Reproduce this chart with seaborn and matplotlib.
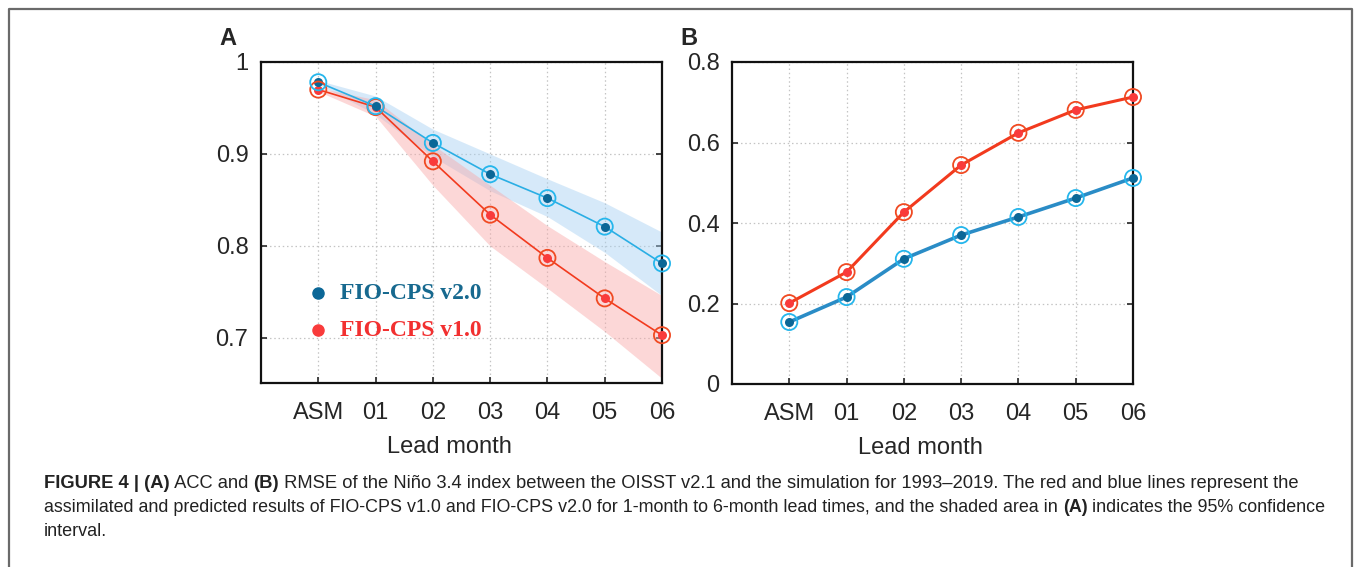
import numpy as np
import pandas as pd
import seaborn as sns
import matplotlib.pyplot as plt
from matplotlib.lines import Line2D

# values
leads = ['ASM', '01', '02', '03', '04', '05', '06']

acc_v2 = [0.978, 0.952, 0.912, 0.878, 0.852, 0.821, 0.781]
acc_v1 = [0.970, 0.951, 0.892, 0.834, 0.787, 0.743, 0.703]
acc_v2_hi = [0.980, 0.963, 0.927, 0.900, 0.873, 0.847, 0.815]
acc_v2_lo = [0.976, 0.943, 0.897, 0.860, 0.832, 0.793, 0.746]
acc_v1_hi = [0.972, 0.959, 0.910, 0.866, 0.822, 0.783, 0.746]
acc_v1_lo = [0.968, 0.941, 0.866, 0.800, 0.754, 0.707, 0.656]

rmse_v2 = [0.154, 0.216, 0.311, 0.370, 0.415, 0.462, 0.512]
rmse_v1 = [0.201, 0.278, 0.427, 0.544, 0.624, 0.681, 0.713]

acc_ticks = [0.7, 0.8, 0.9, 1.0]
acc_ticklabels = ['0.7', '0.8', '0.9', '1']
rmse_ticks = [0.0, 0.2, 0.4, 0.6, 0.8]
rmse_ticklabels = ['0', '0.2', '0.4', '0.6', '0.8']

legend_labels = ['FIO-CPS v2.0', 'FIO-CPS v1.0']

caption = [
    [("FIGURE 4 | (A)", 'bold'), (" ACC and ", 'normal'), ("(B)", 'bold'),
     (" RMSE of the Niño 3.4 index between the OISST v2.1 and the simulation for 1993–2019. "
      "The red and blue lines represent the", 'normal')],
    [("assimilated and predicted results of FIO-CPS v1.0 and FIO-CPS v2.0 for 1-month to "
      "6-month lead times, and the shaded area in ", 'normal'), ("(A)", 'bold'),
     (" indicates the 95% confidence", 'normal')],
    [("interval.", 'normal')],
]

df = pd.DataFrame({
    'pos': np.arange(len(leads)),
    'lead': leads,
    'acc_v2': acc_v2, 'acc_v1': acc_v1,
    'acc_v2_hi': acc_v2_hi, 'acc_v2_lo': acc_v2_lo,
    'acc_v1_hi': acc_v1_hi, 'acc_v1_lo': acc_v1_lo,
    'rmse_v2': rmse_v2, 'rmse_v1': rmse_v1,
})

sns.set_style('white')
plt.rcParams['font.family'] = ['Liberation Sans', 'DejaVu Sans']

BLUE_LINE_A = '#2aaee4'
BLUE_LINE_B = '#2a8cc6'
BLUE_DOT = '#0b6797'
BLUE_RING = '#25b6ec'
RED_LINE = '#f23a1e'
RED_DOT = '#f93b3b'
RED_RING = '#f04a22'

fig = plt.figure(figsize=(13.55, 5.67), dpi=100)
W, H = 1355, 567


def add_axes(x0, x1, y0, y1):
    return fig.add_axes([x0 / W, 1 - y1 / H, (x1 - x0) / W, (y1 - y0) / H])


ax_a = add_axes(261, 662, 62, 383)
ax_b = add_axes(732, 1133, 62, 384)


def draw_series(ax, col, line_color, dot_color, ring_color, lw):
    sns.lineplot(data=df, x='pos', y=col, ax=ax, color=line_color, lw=lw,
                 marker='o', markersize=6.5, markerfacecolor=dot_color,
                 markeredgewidth=0, clip_on=False, zorder=4)
    ax.scatter(df['pos'], df[col], s=135, facecolors='none', edgecolors=ring_color,
               linewidths=1.3, clip_on=False, zorder=5)


# panel A
ax_a.fill_between(df['pos'], df['acc_v2_lo'], df['acc_v2_hi'], color='#a6d0f2',
                  alpha=0.45, lw=0, zorder=2)
ax_a.fill_between(df['pos'], df['acc_v1_lo'], df['acc_v1_hi'], color='#f9a8a8',
                  alpha=0.45, lw=0, zorder=2)
draw_series(ax_a, 'acc_v1', RED_LINE, RED_DOT, RED_RING, 1.2)
draw_series(ax_a, 'acc_v2', BLUE_LINE_A, BLUE_DOT, BLUE_RING, 1.2)
ax_a.set_ylim(0.651, 1.0)
ax_a.set_yticks(acc_ticks)
ax_a.set_yticklabels(acc_ticklabels)

# legend of panel A
leg_colors = [BLUE_DOT, RED_DOT]
leg_text_colors = ['#17698f', '#f23030']
for i, lab in enumerate(legend_labels):
    yy = 0.280 - i * 0.115
    ax_a.plot([0.1425], [yy], 'o', color=leg_colors[i], ms=8, transform=ax_a.transAxes,
              zorder=6)
    ax_a.text(0.197, yy, lab, transform=ax_a.transAxes, va='center', ha='left',
              color=leg_text_colors[i], fontsize=17, fontweight='bold',
              family=['Liberation Serif', 'DejaVu Serif'], zorder=6)

# panel B
draw_series(ax_b, 'rmse_v1', RED_LINE, RED_DOT, RED_RING, 2.2)
draw_series(ax_b, 'rmse_v2', BLUE_LINE_B, BLUE_DOT, BLUE_RING, 2.6)
ax_b.set_ylim(0, 0.8)
ax_b.set_yticks(rmse_ticks)
ax_b.set_yticklabels(rmse_ticklabels)

for ax in (ax_a, ax_b):
    ax.set_xlim(-1, 6)
    ax.set_xticks(df['pos'])
    ax.set_xticklabels(leads)
    ax.grid(True, color='#c4c4c4', lw=0.9, ls=(0, (1.2, 2.2)))
    ax.set_axisbelow(True)
    ax.tick_params(axis='both', direction='in', length=4, width=1.2, labelsize=17,
                   right=True, bottom=True, top=False, left=True, pad=9)
    ax.tick_params(axis='x', pad=14)
    ax.set_ylabel('')
    ax.set_xlabel('Lead month', fontsize=17)
    ax.xaxis.set_label_coords(0.47, -0.165, transform=ax.transAxes)
    ax.xaxis.label.set_va('top')
    for sp in ax.spines.values():
        sp.set_visible(True)
        sp.set_color('#111111')
        sp.set_linewidth(1.6)

fig.text(219 / W, 1 - 45 / H, 'A', fontsize=17, fontweight='bold', va='baseline')
fig.text(680 / W, 1 - 45 / H, 'B', fontsize=17, fontweight='bold', va='baseline')

# outer frame, open at the bottom
fig.add_artist(Line2D([9 / W, 9 / W, 1352 / W, 1352 / W], [0, 1 - 8.5 / H, 1 - 8.5 / H, 0],
                      transform=fig.transFigure, color='#6a6a6a', lw=1.6))

# caption, pieces laid out one after another; each full line sized to its width
renderer = fig.canvas.get_renderer()
cap_family = ['Liberation Sans', 'DejaVu Sans']
base_size = 13.0
line_y = [488, 512, 536]
line_end = [1297, 1318, None]


def place_line(pieces, row, size):
    x = 44
    made = []
    for txt, weight in pieces:
        t = fig.text(x / W, 1 - row / H, txt, fontsize=size, fontweight=weight,
                     family=cap_family, color='#222222', va='baseline', ha='left')
        x += t.get_window_extent(renderer).width
        made.append(t)
    return made, x


for row, pieces, end in zip(line_y, caption, line_end):
    made, x = place_line(pieces, row, base_size)
    if end is not None:
        for t in made:
            t.remove()
        size = base_size * (end - 44) / (x - 44)
        place_line(pieces, row, size)

fig.savefig('out.png', dpi=100)
